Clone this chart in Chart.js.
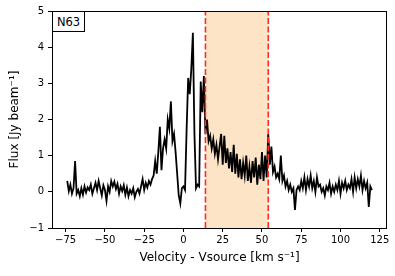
<!DOCTYPE html>
<html>
<head>
<meta charset="utf-8">
<script src="https://cdn.jsdelivr.net/npm/chart.js@4"></script>
<style>
  html, body { margin: 0; padding: 0; background: #fff; }
  #wrap { position: relative; width: 395px; height: 276px; }
  #tag {
    position: absolute; left: 52px; top: 11px; width: 33px; height: 21px;
    border: 1px solid #000; background: #fff; box-sizing: border-box;
    font: 11.5px 'DejaVu Sans', sans-serif; color: #000;
    display: flex; align-items: center; justify-content: center; z-index: 2;
  }
</style>
</head>
<body>
<div id="wrap">
  <canvas id="c" width="395" height="276"></canvas>
  <div id="tag">N63</div>
</div>
<script>
// ===== Datos =====
const velocity = [
  -74, -73, -72, -71, -70, -69, -68, -67, -66, -65,
  -64, -63, -62, -61, -60, -59, -58, -57, -56, -55,
  -54, -53, -52, -51, -50, -49, -48, -47, -46, -45,
  -44, -43, -42, -41, -40, -39, -38, -37, -36, -35,
  -34, -33, -32, -31, -30, -29, -28, -27, -26, -25,
  -24, -23, -22, -21, -20, -19, -18, -17, -16, -15,
  -14, -13, -12, -11, -10, -9, -8, -7, -6, -5,
  -4, -3, -2, -1, 0, 1, 2, 3, 4, 5,
  6, 7, 8, 9, 10, 11, 12, 13, 14, 15,
  16, 17, 18, 19, 20, 21, 22, 23, 24, 25,
  26, 27, 28, 29, 30, 31, 32, 33, 34, 35,
  36, 37, 38, 39, 40, 41, 42, 43, 44, 45,
  46, 47, 48, 49, 50, 51, 52, 53, 54, 55,
  56, 57, 58, 59, 60, 61, 62, 63, 64, 65,
  66, 67, 68, 69, 70, 71, 72, 73, 74, 75,
  76, 77, 78, 79, 80, 81, 82, 83, 84, 85,
  86, 87, 88, 89, 90, 91, 92, 93, 94, 95,
  96, 97, 98, 99, 100, 101, 102, 103, 104, 105,
  106, 107, 108, 109, 110, 111, 112, 113, 114, 115,
  116, 117, 118, 119, 120
];
const flux = [
  0.30, 0.02, 0.20, -0.05, 0.10, 0.85, -0.05, 0.05, -0.12, 0.10,
  -0.08, 0.15, -0.02, 0.12, 0.05, 0.20, -0.05, 0.10, 0.25, 0.05,
  0.30, 0.10, -0.10, 0.18, 0.05, -0.25, 0.15, 0.00, 0.30, 0.15,
  0.28, 0.08, 0.22, -0.05, 0.15, 0.02, 0.18, -0.08, 0.12, -0.12,
  0.05, -0.05, 0.10, -0.15, 0.00, 0.08, -0.05, 0.15, 0.35, 0.05,
  0.25, 0.12, 0.30, 0.20, 0.35, 0.45, 0.85, 0.50, 1.10, 1.80,
  0.60, 1.20, 1.45, 1.20, 2.00, 1.75, 2.50, 1.40, 1.60, 1.10,
  0.50, -0.10, -0.32, 0.10, 0.15, 0.05, 1.70, 3.15, 2.70, 3.40,
  4.40, 1.60, 0.10, 0.20, 0.15, 3.05, 2.20, 3.20, 1.60, 2.00,
  1.40, 1.55, 1.20, 1.45, 1.05, 1.30, 0.90, 1.25, 1.60, 0.75,
  1.55, 0.80, 1.20, 0.65, 1.10, 0.55, 1.30, 0.50, 1.05, 0.40,
  0.90, 0.35, 0.80, 0.45, 1.00, 0.30, 0.70, 0.25, 0.85, 0.40,
  0.95, 0.20, 0.75, 0.35, 1.10, 0.30, 1.00, 0.40, 1.60, 0.75,
  1.25, 0.55, 0.70, 0.40, 0.50, 0.35, 1.00, 0.30, 0.45, 0.15,
  0.30, 0.05, 0.20, 0.00, 0.10, -0.50, 0.05, 0.15, 0.05, 0.30,
  0.10, 0.40, 0.05, 0.35, 0.15, 0.45, 0.10, 0.30, 0.00, 0.40,
  0.15, 0.20, 0.00, 0.10, -0.10, 0.15, 0.05, 0.25, -0.05, 0.15,
  0.00, 0.20, 0.05, 0.30, -0.05, 0.25, 0.10, 0.30, 0.05, 0.20,
  0.10, 0.35, 0.00, 0.40, 0.10, 0.35, 0.15, 0.45, 0.05, 0.30,
  0.10, 0.25, -0.42, 0.15, 0.05
];
const band = [14, 54];            // intervalo sombreado (km/s)
const xTicks = [-75, -50, -25, 0, 25, 50, 75, 100, 125];
const yTicks = [-1, 0, 1, 2, 3, 4, 5];
const xRange = [-83.7, 129.6];
const yRange = [-1, 5];

const FONT = "'DejaVu Sans', sans-serif";
const fmt = v => String(v).replace('-', '\u2212');

// Sombreado del intervalo + marco completo de los ejes
const bandPlugin = {
  id: 'band',
  beforeDatasetsDraw(chart) {
    const { ctx, chartArea: a, scales: { x } } = chart;
    const x1 = x.getPixelForValue(band[0]), x2 = x.getPixelForValue(band[1]);
    ctx.save();
    ctx.fillStyle = '#fde4c6';
    ctx.fillRect(x1, a.top, x2 - x1, a.bottom - a.top);
    ctx.restore();
  },
  afterDraw(chart) {
    const { ctx, chartArea: a } = chart;
    ctx.save();
    ctx.strokeStyle = '#000';
    ctx.lineWidth = 1;
    ctx.strokeRect(Math.round(a.left) + 0.5, Math.round(a.top) + 0.5,
                   Math.round(a.right - a.left) - 1, Math.round(a.bottom - a.top));
    ctx.restore();
  }
};

const vline = v => ({
  data: [{ x: v, y: yRange[0] }, { x: v, y: yRange[1] }],
  borderColor: '#ff2a2a', borderWidth: 1.6, borderDash: [6, 2.5],
  pointRadius: 0, order: 0
});

new Chart(document.getElementById('c'), {
  type: 'line',
  data: {
    datasets: [
      vline(band[0]),
      vline(band[1]),
      {
        data: velocity.map((v, i) => ({ x: v, y: flux[i] })),
        borderColor: '#000', borderWidth: 1.8, pointRadius: 0,
        tension: 0, order: 1
      }
    ]
  },
  options: {
    responsive: false,
    animation: false,
    layout: { padding: { top: 11, right: 8, left: 0, bottom: 0 } },
    plugins: { legend: { display: false }, tooltip: { enabled: false } },
    scales: {
      x: {
        type: 'linear', min: xRange[0], max: xRange[1],
        afterFit: s => { s.height = 48; },
        afterBuildTicks: s => { s.ticks = xTicks.map(value => ({ value })); },
        border: { display: false },
        grid: { drawOnChartArea: false, drawTicks: true, tickLength: 4, tickColor: '#000' },
        ticks: { color: '#000', font: { family: FONT, size: 10 }, padding: 2, maxRotation: 0, callback: fmt },
        title: { display: true, text: 'Velocity - Vsource [km s\u207B\u00B9]', color: '#000',
                 font: { family: FONT, size: 12 }, padding: { top: 0, bottom: 11 } }
      },
      y: {
        min: yRange[0], max: yRange[1],
        afterFit: s => { s.width = 52; },
        afterBuildTicks: s => { s.ticks = yTicks.map(value => ({ value })); },
        border: { display: false },
        grid: { drawOnChartArea: false, drawTicks: true, tickLength: 4, tickColor: '#000' },
        ticks: { color: '#000', font: { family: FONT, size: 10 }, padding: 4, callback: fmt },
        title: { display: true, text: 'Flux [Jy beam\u207B\u00B9]', color: '#000',
                 font: { family: FONT, size: 12 }, padding: { top: 8, bottom: 0 } }
      }
    }
  },
  plugins: [bandPlugin]
});
</script>
</body>
</html>
